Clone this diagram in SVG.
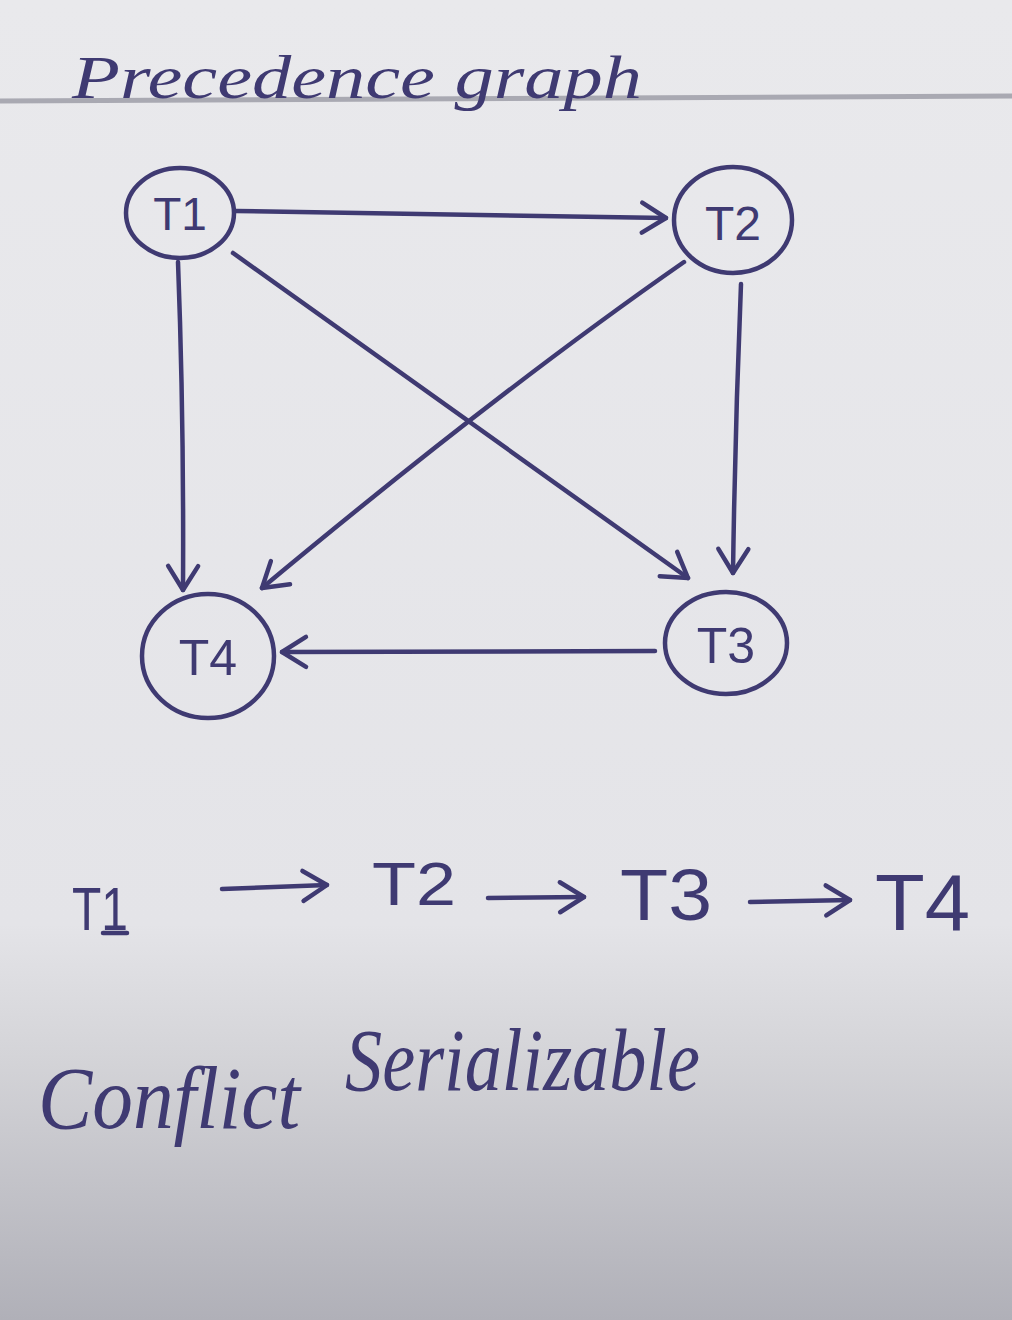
<svg xmlns="http://www.w3.org/2000/svg" width="1012" height="1320" viewBox="0 0 1012 1320">
  <defs>
    <linearGradient id="bg" x1="0" y1="0" x2="0" y2="1">
      <stop offset="0" stop-color="#e9e9ec"/>
      <stop offset="0.7" stop-color="#e4e4e8"/>
      <stop offset="0.8" stop-color="#d4d4d8"/>
      <stop offset="1" stop-color="#b0b0b8"/>
    </linearGradient>
    <marker id="arr" markerUnits="userSpaceOnUse" markerWidth="40" markerHeight="40" viewBox="-30 -20 40 40" refX="0" refY="0" orient="auto">
      <path d="M -24,-15 L 0,0 L -24,15" fill="none" stroke="#3f3a72" stroke-width="4.5" stroke-linecap="round" stroke-linejoin="round"/>
    </marker>
  </defs>
  <style>
    .ink { fill: none; stroke: #3f3a72; stroke-width: 4.5; stroke-linecap: round; }
    .edge { fill: none; stroke: #3f3a72; stroke-width: 4.5; stroke-linecap: round; marker-end: url(#arr); }
    .lbl { fill: #3f3a72; font-family: "Liberation Sans", Arial, sans-serif; }
    .seq { fill: #3f3a72; font-family: "Liberation Sans", Arial, sans-serif; }
    .hand { fill: #3f3a72; font-family: "Liberation Serif", serif; font-style: italic; }
  </style>
  <rect x="0" y="0" width="1012" height="1320" fill="url(#bg)"/>
  <line x1="0" y1="101" x2="1012" y2="96" stroke="#a9a9b2" stroke-width="5"/>
  <text class="hand" x="72" y="98" font-size="62" textLength="570" lengthAdjust="spacingAndGlyphs">Precedence graph</text>

  <g id="connectors">
    <path class="edge" d="M 236,211 L 666,218"/>
    <path class="edge" d="M 178,262 Q 184,420 183,590"/>
    <path class="edge" d="M 233,253 L 688,578"/>
    <path class="edge" d="M 684,262 Q 500,390 262,588"/>
    <path class="edge" d="M 741,284 Q 735,430 733,573"/>
    <path class="edge" d="M 655,651 L 282,652"/>
  </g>

  <g id="T1">
    <ellipse class="ink" cx="180" cy="213" rx="54" ry="45"/>
    <text class="lbl" x="180" y="230" font-size="46" text-anchor="middle">T1</text>
  </g>
  <g id="T2">
    <ellipse class="ink" cx="733" cy="220" rx="59" ry="53"/>
    <text class="lbl" x="733" y="240" font-size="48" text-anchor="middle">T2</text>
  </g>
  <g id="T3">
    <ellipse class="ink" cx="726" cy="643" rx="61" ry="51"/>
    <text class="lbl" x="726" y="663" font-size="50" text-anchor="middle">T3</text>
  </g>
  <g id="T4">
    <ellipse class="ink" cx="208" cy="656" rx="66" ry="62"/>
    <text class="lbl" x="208" y="675" font-size="50" text-anchor="middle">T4</text>
  </g>

  <g id="sequence">
    <text class="seq" x="72" y="930" font-size="62" textLength="56" lengthAdjust="spacingAndGlyphs">T1</text>
    <line class="ink" x1="103" y1="933" x2="127" y2="933"/>
    <path class="edge" d="M 222,889 L 327,885"/>
    <text class="seq" x="372" y="905" font-size="62" textLength="84" lengthAdjust="spacingAndGlyphs">T2</text>
    <path class="edge" d="M 488,898 L 584,897"/>
    <text class="seq" x="620" y="920" font-size="72" textLength="92" lengthAdjust="spacingAndGlyphs">T3</text>
    <path class="edge" d="M 750,902 L 850,900"/>
    <text class="seq" x="875" y="930" font-size="80" textLength="95" lengthAdjust="spacingAndGlyphs">T4</text>
  </g>

  <text class="hand" x="38" y="1128" font-size="88" textLength="262" lengthAdjust="spacingAndGlyphs">Conflict</text>
  <text class="hand" x="345" y="1090" font-size="88" textLength="355" lengthAdjust="spacingAndGlyphs">Serializable</text>
</svg>
